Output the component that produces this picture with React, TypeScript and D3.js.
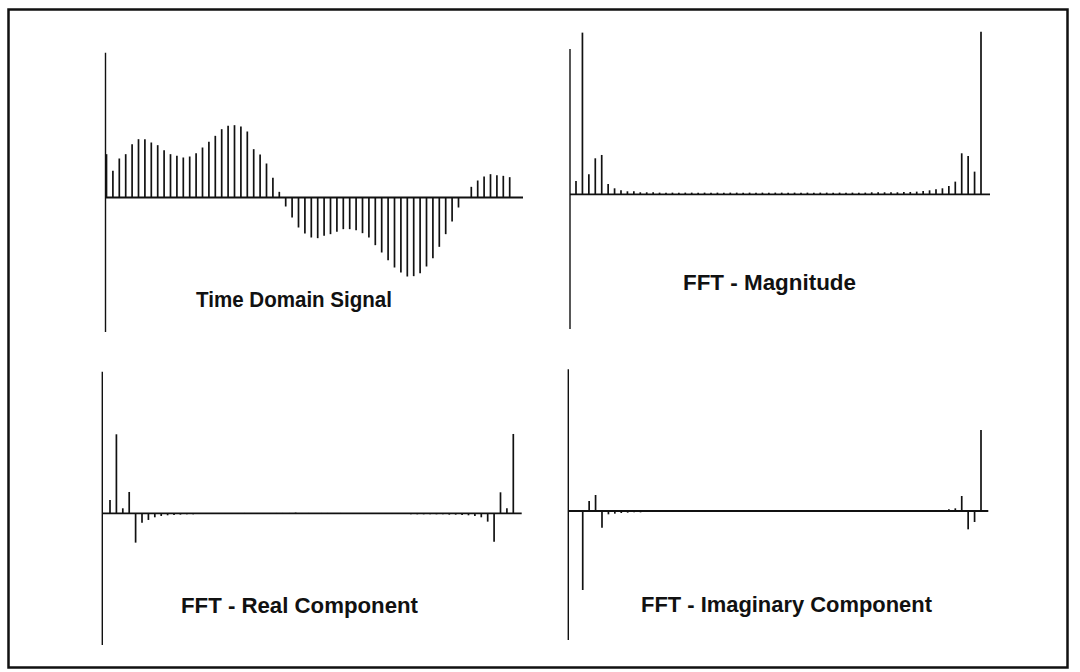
import React from "react";
import * as d3 from "d3";

// sample values (arbitrary units, 64 points each)
const timeSignal = [
  13.0, 8.0, 11.7, 13.0, 16.0, 17.5, 17.5, 16.5, 15.7, 14.2, 13.0, 12.5, 12.0, 12.3, 13.3, 15.0,
  16.7, 18.5, 20.5, 21.5, 21.7, 21.3, 19.8, 14.5, 12.9, 10.2, 5.9, 1.7, -2.7, -6.0, -9.0, -10.8,
  -12.0, -12.2, -11.5, -11.0, -10.3, -9.5, -9.5, -9.8, -10.7, -12.0, -14.3, -16.5, -18.8, -21.0, -22.5, -23.7,
  -23.6, -22.7, -20.7, -18.2, -14.8, -11.0, -7.2, -3.0, 0, 3.2, 5.1, 6.3, 7.0, 6.7, 6.5, 6.1,
];

const fftMagnitude = [
  4.0, 48.5, 6.0, 10.8, 11.8, 3.1, 1.8, 1.2, 0.9, 0.9, 0.6, 0.6, 0.6, 0.5, 0.5, 0.5,
  0.5, 0.5, 0.5, 0.5, 0.5, 0.5, 0.5, 0.5, 0.5, 0.5, 0.5, 0.5, 0.5, 0.5, 0.5, 0.5,
  0.5, 0.5, 0.5, 0.5, 0.5, 0.5, 0.5, 0.5, 0.5, 0.5, 0.5, 0.5, 0.5, 0.5, 0.6, 0.6,
  0.6, 0.6, 0.6, 0.7, 0.7, 0.8, 1.0, 1.2, 1.5, 1.8, 2.5, 3.8, 12.3, 11.5, 6.8, 48.8,
];

const fftReal = [
  4.0, 23.7, 1.5, 6.4, -8.8, -2.8, -2.0, -1.2, -0.8, -0.6, -0.5, -0.4, -0.3, -0.3, -0.2, -0.2,
  -0.2, -0.1, -0.1, -0.1, 0.1, 0.1, -0.1, -0.1, -0.1, 0.1, 0.1, 0.1, 0.1, 0.2, 0.1, 0.1,
  0.1, 0.1, 0.1, 0.1, 0.1, -0.1, -0.1, -0.1, -0.1, -0.1, -0.1, -0.2, -0.2, -0.2, -0.2, -0.3,
  -0.3, -0.3, -0.3, -0.3, -0.3, -0.4, -0.4, -0.5, -0.6, -0.8, -1.2, -2.5, -8.5, 6.3, 1.5, 23.8,
];

const fftImag = [
  0, -23.7, 3.0, 4.8, -5.0, -1.0, -0.8, -0.6, -0.5, -0.4, -0.4, -0.3, -0.3, -0.2, -0.2, -0.2,
  -0.2, -0.2, -0.2, -0.1, -0.1, -0.1, -0.1, 0.1, 0.1, 0.1, 0.1, 0.1, 0.1, 0.1, 0.1, 0.1,
  0.1, 0.1, 0.1, 0.1, 0.1, 0.1, 0.1, 0.1, 0.1, 0.1, 0.1, 0.1, 0.1, 0.1, 0.1, 0.1,
  0.1, 0.1, 0.1, 0.1, 0.1, 0.2, 0.2, 0.2, 0.2, 0.3, 0.5, 0.8, 4.5, -5.5, -3.3, 24.3,
];

const titles = [
  "Time Domain Signal",
  "FFT - Magnitude",
  "FFT - Real Component",
  "FFT - Imaginary Component",
];

const W = 1080;
const H = 672;
const PX_PER_UNIT = 10 / 3;

// layout of the four small plots on the page
const panels = [
  { values: timeSignal, title: titles[0], axisX: 105.5, axisTop: 52.7, axisBottom: 332, x0: 106.5, x1: 509.7, baseEnd: 523, baseline: 197.5, labelX: 294, labelY: 307, labelW: 196 },
  { values: fftMagnitude, title: titles[1], axisX: 570, axisTop: 49, axisBottom: 329, x0: 576, x1: 981, baseEnd: 990, baseline: 194.3, labelX: 769.5, labelY: 290, labelW: 173 },
  { values: fftReal, title: titles[2], axisX: 102.3, axisTop: 371.7, axisBottom: 645, x0: 110, x1: 513.3, baseEnd: 521.7, baseline: 513.3, labelX: 299.5, labelY: 613, labelW: 237 },
  { values: fftImag, title: titles[3], axisX: 568.3, axisTop: 369.3, axisBottom: 640, x0: 576.3, x1: 981, baseEnd: 988.3, baseline: 511, labelX: 786.5, labelY: 612, labelW: 291 },
];

const StemPlot = ({ p }) => {
  const x = d3.scaleLinear().domain([0, p.values.length - 1]).range([p.x0, p.x1]);
  const y = d3.scaleLinear().domain([0, 1]).range([p.baseline, p.baseline - PX_PER_UNIT]);
  return (
    <g>
      <line x1={p.axisX} x2={p.axisX} y1={p.axisTop} y2={p.axisBottom} stroke="#111" strokeWidth={1.4} />
      <line x1={p.axisX} x2={p.baseEnd} y1={y(0)} y2={y(0)} stroke="#111" strokeWidth={1.8} />
      {p.values.map((v, i) => (
        <line key={i} x1={x(i)} x2={x(i)} y1={y(0)} y2={y(v)} stroke="#111" strokeWidth={1.7} />
      ))}
      <text
        x={p.labelX}
        y={p.labelY}
        textAnchor="middle"
        textLength={p.labelW}
        lengthAdjust="spacingAndGlyphs"
        fontFamily="'Liberation Sans', Arial, sans-serif"
        fontWeight="bold"
        fontSize={22}
        fill="#111"
      >
        {p.title}
      </text>
    </g>
  );
};

export default function App() {
  return (
    <svg width={W} height={H} style={{ position: "absolute", left: 0, top: 0, background: "#fff" }}>
      <rect x={0} y={0} width={W} height={H} fill="#fff" />
      <rect x={8.5} y={9.5} width={1059} height={658} fill="none" stroke="#111" strokeWidth={2.5} />
      {panels.map((p, i) => (
        <StemPlot key={i} p={p} />
      ))}
    </svg>
  );
}
